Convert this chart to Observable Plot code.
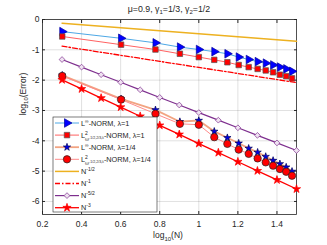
<!DOCTYPE html>
<html><head><meta charset="utf-8">
<script src="https://cdn.jsdelivr.net/npm/d3@7"></script>
<script src="https://cdn.jsdelivr.net/npm/@observablehq/plot@0.6"></script>
<style>
body{margin:0;background:#fff}
#chart{position:relative;width:327px;height:245px}
</style>
</head><body><div id="chart"></div>
<script>
// ---- data (log10 scale values) ----
const N = [2,4,6,8,10,12,14,16,18,20,22,24,26,28,30];
const linfLam1 = [-0.40,-0.62,-0.77,-0.91,-0.99,-1.06,-1.13,-1.24,-1.32,-1.39,-1.44,-1.50,-1.57,-1.63,-1.71];
const l2Lam1   = [-0.56,-0.83,-0.99,-1.13,-1.24,-1.33,-1.41,-1.50,-1.57,-1.63,-1.68,-1.74,-1.82,-1.87,-1.94];
const linfLam4 = [-1.84,-2.62,-2.98,-3.37,-3.33,-3.69,-3.90,-4.08,-4.25,-4.38,-4.52,-4.65,-4.76,-4.87,-5.01];
const l2Lam4   = [-1.86,-2.64,-3.11,-3.44,-3.47,-3.88,-4.10,-4.29,-4.43,-4.58,-4.71,-4.82,-4.93,-5.02,-5.15];
const refLogN  = [0.3,0.4,0.5,0.6,0.7,0.8,0.9,1.0,1.1,1.2,1.3,1.4,1.5];
const refHalf  = [-0.12,-0.17,-0.22,-0.27,-0.32,-0.37,-0.42,-0.47,-0.52,-0.57,-0.62,-0.67,-0.72];
const refOne   = [-0.88,-0.98,-1.08,-1.18,-1.28,-1.38,-1.48,-1.58,-1.68,-1.78,-1.88,-1.98,-2.08];
const refFive2 = [-1.32,-1.57,-1.82,-2.07,-2.32,-2.57,-2.82,-3.07,-3.32,-3.57,-3.82,-4.07,-4.32];
const refThree = [-1.99,-2.29,-2.59,-2.89,-3.19,-3.49,-3.79,-4.09,-4.39,-4.69,-4.99,-5.29,-5.59];
const xTicks = [0.2,0.4,0.6,0.8,1,1.2,1.4];
const yTicks = [0,-1,-2,-3,-4,-5,-6];

const logN = N.map(Math.log10);
const pts = (xs, ys) => xs.map((x, i) => ({x, y: ys[i]}));

const S = {
  linf1: {line:"#4DA8E6", w:1, sym:"triangle", rot:90, r:3.2, fill:"#0000FF", stroke:"#00009A"},
  l21:   {line:"#FF6262", w:1, sym:"square", r:3.1, fill:"#FF0000", stroke:"#555"},
  linf4: {line:"#F2A482", w:1.8, sym:"star", r:2.3, fill:"#0000E6", stroke:"#00005A"},
  l24:   {line:"#FF8A8A", w:1, sym:"circle", r:3.7, fill:"#FF0000", stroke:"#222"},
  half:  {line:"#EDB120", w:1.5},
  one:   {line:"#FF0000", w:1.3, dash:"5,2,1.5,2"},
  five2: {line:"#7E2F8E", w:1.2, sym:"diamond2", r:2.6, fill:"#EFE2F1", stroke:"#7E2F8E"},
  three: {line:"#FF0000", w:1.3, sym:"star", r:2.6, fill:"#FF0000", stroke:"#FF0000"}
};

function seriesMarks(data, s) {
  const m = [Plot.line(data, {x:"x", y:"y", stroke:s.line, strokeWidth:s.w, strokeDasharray:s.dash})];
  if (s.sym) m.push(Plot.dot(data, {x:"x", y:"y", symbol:s.sym, r:s.r, fill:s.fill, stroke:s.stroke, strokeWidth:0.7, rotate:s.rot || 0}));
  return m;
}

const chart = Plot.plot({
  width: 327, height: 245,
  marginLeft: 42, marginRight: 31, marginTop: 19, marginBottom: 31,
  style: {fontFamily: "'Liberation Sans', Arial, sans-serif", fontSize: "8.5px", color: "#262626", background: "#fff"},
  x: {domain: [0.2, 1.5]},
  y: {domain: [-6.43, 0]},
  marks: [
    Plot.gridX(xTicks, {stroke:"#000", strokeOpacity:0.12}),
    Plot.gridY(yTicks, {stroke:"#000", strokeOpacity:0.12}),
    Plot.axisX(xTicks, {tickSize:-3, tickPadding:9, label:null, tickFormat:d => String(d), stroke:"#262626"}),
    Plot.axisX(xTicks, {anchor:"top", tickSize:-3, label:null, tickFormat:() => "", stroke:"#262626"}),
    Plot.axisY(yTicks, {tickSize:-3, tickPadding:6, label:null, tickFormat:d => String(d), stroke:"#262626"}),
    Plot.axisY(yTicks, {anchor:"right", tickSize:-3, label:null, tickFormat:() => "", stroke:"#262626"}),
    Plot.frame({stroke:"#262626", strokeWidth:0.8}),
    ...seriesMarks(pts(logN, linfLam1), S.linf1),
    ...seriesMarks(pts(logN, l2Lam1), S.l21),
    ...seriesMarks(pts(logN, linfLam4), S.linf4),
    ...seriesMarks(pts(logN, l2Lam4), S.l24),
    ...seriesMarks(pts(refLogN, refHalf), S.half),
    ...seriesMarks(pts(refLogN, refOne), S.one),
    ...seriesMarks(pts(refLogN, refFive2), S.five2),
    ...seriesMarks(pts(refLogN, refThree), S.three)
  ]
});
document.getElementById("chart").appendChild(chart);

// ---- titles, labels, legend (layout added onto the same SVG) ----
const svg = d3.select(chart);
const FONT = "'Liberation Sans', Arial, sans-serif";

function richText(g, parts, attrs) {
  const t = g.append("text").attr("font-family", FONT).attr("fill", "#262626").attr("text-anchor", "start");
  for (const k in attrs) t.attr(k, attrs[k]);
  for (const p of parts) {
    const s = t.append("tspan").text(p.t);
    if (p.size) s.attr("font-size", p.size);
    if (p.dy) s.attr("dy", p.dy);
    if (p.dx) s.attr("dx", p.dx);
  }
  return t;
}

richText(svg, [
  {t:"μ=0.9, γ"},{t:"1", size:6, dy:2},{t:"=1/3, γ", dy:-2},{t:"2", size:6, dy:2},{t:"=1/2", dy:-2}
], {x:169, y:12, "text-anchor":"middle", "font-size":8.8});

richText(svg, [
  {t:"log"},{t:"10", size:6, dy:2.5},{t:"(N)", dy:-2.5}
], {x:168, y:238, "text-anchor":"middle", "font-size":8.5});

richText(svg, [
  {t:"log"},{t:"10", size:6, dy:2.5},{t:"(Error)", dy:-2.5}
], {x:0, y:0, "text-anchor":"middle", "font-size":8.5, transform:"translate(25.5,94) rotate(-90)"});

// legend
const legendItems = [
  {key:"linf1", parts:[{t:"L"},{t:"∞", size:5, dy:-3},{t:"-NORM, λ=1", dy:3}]},
  {key:"l21",   parts:[{t:"L"},{t:"2", size:5, dy:-3},{t:"ω", size:5, dx:-2.8, dy:6},{t:"-1/2,2/3,λ", size:3.6, dy:-1.5},{t:"-NORM, λ=1", dy:-1.5}]},
  {key:"linf4", parts:[{t:"L"},{t:"∞", size:5, dy:-3},{t:"-NORM, λ=1/4", dy:3}]},
  {key:"l24",   parts:[{t:"L"},{t:"2", size:5, dy:-3},{t:"ω", size:5, dx:-2.8, dy:6},{t:"-1/2,2/3,λ", size:3.6, dy:-1.5},{t:"-NORM, λ=1/4", dy:-1.5}]},
  {key:"half",  parts:[{t:"N"},{t:"-1/2", size:5, dy:-3}]},
  {key:"one",   parts:[{t:"N"},{t:"-1", size:5, dy:-3}]},
  {key:"five2", parts:[{t:"N"},{t:"-5/2", size:5, dy:-3}]},
  {key:"three", parts:[{t:"N"},{t:"-3", size:5, dy:-3}]}
];
const symMap = {triangle:d3.symbolTriangle, square:d3.symbolSquare, star:d3.symbolStar, circle:d3.symbolCircle, diamond2:d3.symbolDiamond2};
const lg = svg.append("g");
lg.append("rect").attr("x",53).attr("y",117).attr("width",104).attr("height",95)
  .attr("fill","#fff").attr("stroke","#262626").attr("stroke-width",0.6);
legendItems.forEach((it, i) => {
  const s = S[it.key];
  const cy = 123 + i * 12.1;
  lg.append("line").attr("x1",55).attr("x2",79).attr("y1",cy).attr("y2",cy)
    .attr("stroke", s.line).attr("stroke-width", s.w).attr("stroke-dasharray", s.dash || null);
  if (s.sym) {
    lg.append("path").attr("d", d3.symbol(symMap[s.sym], Math.PI * s.r * s.r)())
      .attr("transform", `translate(67,${cy}) rotate(${s.rot || 0})`)
      .attr("fill", s.fill).attr("stroke", s.stroke).attr("stroke-width", 0.7);
  }
  richText(lg, it.parts, {x:81, y:cy + 2.6, "font-size":7.3});
});
</script>
</body></html>
